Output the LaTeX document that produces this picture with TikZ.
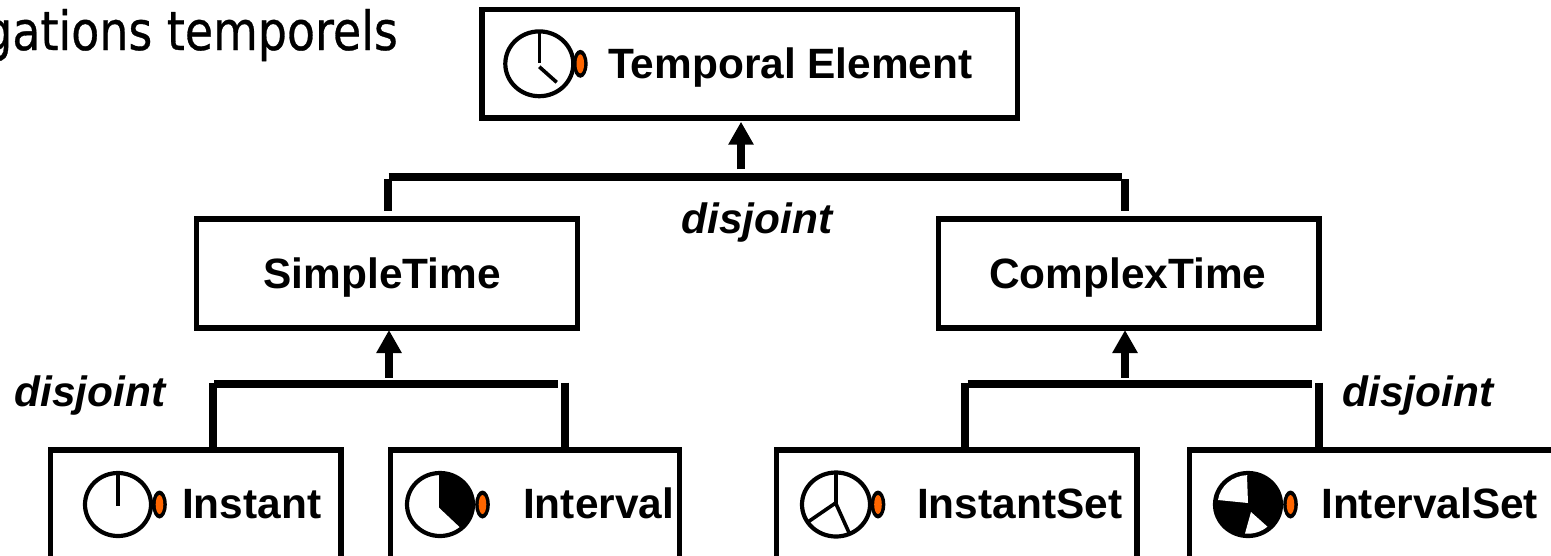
\documentclass[tikz,border=0pt]{standalone}
\usepackage{fontspec}
\setmainfont{Liberation Sans}
\newfontfamily\titlefont[FakeBold=0.6]{DejaVu Sans}
\usetikzlibrary{arrows.meta,shapes.geometric}
\definecolor{knoborange}{HTML}{FF6600}
\tikzset{
  x=1pt,y=1pt,
  classbox/.style={draw=black,line width=5.3pt,fill=white,rectangle,inner sep=0pt,outer sep=0pt,minimum width=#1},
  classbox/.default=100pt,
  boxname/.style={anchor=base west,inner sep=0pt,font=\fontsize{42.4}{46}\selectfont\bfseries},
  genword/.style={anchor=base,inner sep=0pt,font=\fontsize{42.4}{46}\selectfont\bfseries\itshape},
  bracket/.style={draw=black,line width=8pt},
  genarrow/.style={draw=black,line width=8pt,-{Triangle[length=23pt,width=24pt]}},
  dial/.style={draw=black,line width=4.2pt,fill=white},
  hand/.style={draw=black,line width=3.6pt},
  knob/.pic={
    \fill[black] (0,0) ellipse [x radius=7.3pt,y radius=14pt];
    \fill[knoborange] (0,0) ellipse [x radius=3.8pt,y radius=9.5pt];
  },
  iconclock/.pic={
    \path[dial] (0,0) ellipse [x radius=34pt,y radius=32.4pt];
    \draw[hand] (0,32) -- (0,0.5);
    \draw[hand] (0,-3) -- (17.4,-18.5);
    \pic at (41,0) {knob};
  },
  iconinstant/.pic={
    \path[dial] (0,0) ellipse [x radius=33pt,y radius=31.5pt];
    \draw[hand] (0,31.5) -- (0,-1);
    \pic at (41.5,0) {knob};
  },
  iconinterval/.pic={
    \path[dial] (0,0) ellipse [x radius=33pt,y radius=31.5pt];
    \fill[black] (-1,-3) -- (-1,31.5) arc [start angle=92,end angle=-50,x radius=33pt,y radius=31.5pt] -- cycle;
    \pic at (42.5,0) {knob};
  },
  iconinstantset/.pic={
    \path[dial] (0,0) ellipse [x radius=34pt,y radius=32pt];
    \draw[hand] (0,32) -- (0,1.8) -- (-27.7,-17.2);
    \draw[hand] (-0.5,1.8) -- (13.3,-28.8);
    \pic at (42,0) {knob};
  },
  iconintervalset/.pic={
    \path[dial,fill=black] (0,0) ellipse [x radius=33pt,y radius=31.5pt];
    \fill[white] (-1,29) -- (0,1.5) -- (-30,4.5) arc [start angle=172,end angle=92,x radius=31pt,y radius=29pt] -- cycle;
    \fill[white] (3,-7.5) -- (-3,-29) arc [start angle=264,end angle=310,x radius=30pt,y radius=30pt] -- cycle;
    \pic at (42.5,0) {knob};
  },
}
\begin{document}
\begin{tikzpicture}
\useasboundingbox (0,0) rectangle (1551,-555);
\clip (0,0) rectangle (1551,-555);
\fill[white] (0,0) rectangle (1551,-555);

% boxes
\node[classbox=535.5pt,minimum height=108.2pt] (top) at (749.75,-63.8) {};
\node[classbox=381pt,minimum height=109pt] (simple) at (387,-273.5) {};
\node[classbox=380.5pt,minimum height=109pt] (complex) at (1128.75,-273.5) {};
\node[classbox=290.5pt,minimum height=130pt] (instant) at (195.75,-515) {};
\node[classbox=289pt,minimum height=130pt] (interval) at (535,-515) {};
\node[classbox=360.5pt,minimum height=130pt] (instantset) at (956.75,-515) {};
\node[classbox=380pt,minimum height=130pt] (intervalset) at (1379.5,-515) {};

% title fragment
\node[anchor=base east,inner sep=0pt,xscale=0.85,font=\titlefont\fontsize{54}{58}\selectfont] (title) at (398,-50) {gations temporels};

% icons
\pic at (539.3,-63.8) {iconclock};
\pic at (118,-504.5) {iconinstant};
\pic at (440,-504.5) {iconinterval};
\pic at (836,-504.5) {iconinstantset};
\pic at (1248,-504.5) {iconintervalset};

% labels
\node[boxname] (topname) at (608,-78) {Temporal Element};
\node[boxname] (simplename) at (263.5,-288) {SimpleTime};
\node[boxname] (complexname) at (989,-288) {ComplexTime};
\node[boxname] (instantname) at (182,-518.5) {Instant};
\node[boxname] (intervalname) at (523,-518.5) {Interval};
\node[boxname] (instantsetname) at (917,-518.5) {InstantSet};
\node[boxname] (intervalsetname) at (1321,-518.5) {IntervalSet};
\node[genword] (dj1) at (757,-233.5) {disjoint};
\node[genword] (dj2) at (90,-406.5) {disjoint};
\node[genword] (dj3) at (1418,-406.5) {disjoint};

% upper generalisation
\coordinate (ua) at (741,-169.3);
\coordinate (ul) at (388.5,-176.5);
\coordinate (ur) at (1121.7,-176.5);
\coordinate (ulv) at (388.3,-179.3);
\coordinate (urv) at (1125,-179.3);
\draw[bracket] (ul) -- (ur);
\draw[bracket] (ulv) -- (ulv |- 0,-211);
\draw[bracket] (urv) -- (urv |- 0,-211);
\draw[genarrow,shorten >=3.8pt] (ua) -- (ua |- top.south);

% lower left generalisation
\coordinate (la) at (389,-377.7);
\coordinate (ll) at (214,-383.5);
\coordinate (lr) at (558,-383.5);
\coordinate (llv) at (213,-382.7);
\coordinate (lrv) at (564.7,-382.7);
\draw[bracket] (ll) -- (lr);
\draw[bracket] (llv) -- (llv |- instant.north);
\draw[bracket] (lrv) -- (lrv |- interval.north);
\draw[genarrow,shorten >=2pt] (la) -- (la |- simple.south);

% lower right generalisation
\coordinate (ra) at (1125,-377.7);
\coordinate (rl) at (967.7,-383.5);
\coordinate (rr) at (1312,-383.5);
\coordinate (rlv) at (964.7,-382.7);
\coordinate (rrv) at (1319,-382.7);
\draw[bracket] (rl) -- (rr);
\draw[bracket] (rlv) -- (rlv |- instantset.north);
\draw[bracket] (rrv) -- (rrv |- intervalset.north);
\draw[genarrow,shorten >=2pt] (ra) -- (ra |- complex.south);
\end{tikzpicture}
\end{document}
